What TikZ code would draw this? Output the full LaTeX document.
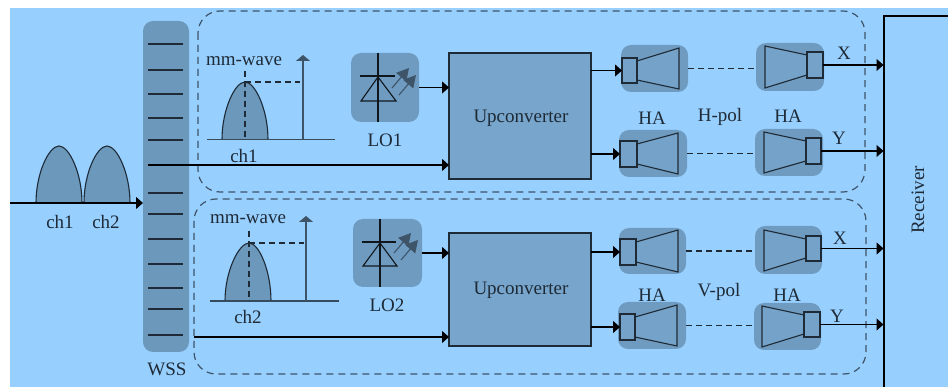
\documentclass[tikz,border=0pt]{standalone}
\usepackage{fontspec}
\setmainfont{Liberation Serif}
\usetikzlibrary{arrows.meta}
\definecolor{skybg}{HTML}{97CFFF}
\definecolor{wssfill}{HTML}{6C98BC}
\definecolor{upfill}{HTML}{77A5CB}
\definecolor{hornbgc}{HTML}{6F9BC0}
\definecolor{hornfill}{HTML}{74A2C8}
\definecolor{inkdark}{HTML}{1E2A36}
\definecolor{greyline}{HTML}{3E5468}
\tikzset{
  x=1pt,y=-1pt,
  box/.style={inner sep=0pt,outer sep=0pt,rectangle},
  wssbar/.style={box,fill=wssfill,rounded corners=10pt},
  upbox/.style={box,fill=upfill,draw=inkdark,line width=1.1pt},
  lobox/.style={box,fill=hornbgc,rounded corners=10pt},
  hornbg/.style={box,fill=hornbgc,rounded corners=10pt},
  feedbox/.style={box,fill=hornfill,draw=inkdark,line width=1.1pt},
  hornbody/.style={fill=hornfill,draw=inkdark,line width=1.1pt,line join=miter},
  region/.style={draw=greyline,line width=1.2pt,dash pattern=on 7pt off 5pt,rounded corners=22pt},
  tick/.style={draw=inkdark,line width=1.1pt},
  link/.style={draw=black,line width=1.05pt,-{Triangle[length=7pt,width=12pt]}},
  hop/.style={draw=inkdark,line width=1.2pt,dash pattern=on 6pt off 4pt},
  guide/.style={draw=inkdark,line width=1.1pt,dash pattern=on 6pt off 4pt},
  spike/.style={draw=greyline,line width=1.2pt,-{Triangle[length=6pt,width=14pt]}},
  axisline/.style={draw=inkdark!80!skybg,line width=1.2pt},
  bump/.style={fill=wssfill,draw=inkdark,line width=1.1pt},
  ledarrow/.style={draw=greyline,line width=1.1pt,-{Triangle[length=12pt,width=13pt]}},
  diode/.style={draw=black!85!wssfill,line width=1.1pt},
  lbl/.style={inner sep=0pt,text=inkdark,font=\fontsize{19}{21}\selectfont},
}
% [style]{name}{x1}{y1}{x2}{y2}
\newcommand{\rectnode}[6][]{%
  \node[#1,minimum width={#5-#3},minimum height={#6-#4}] (#2) at ({(#3+#5)/2},{(#4+#6)/2}) {};}
% horn with throat on the left: name, feed x1 y1 x2 y2, mouth x, mouth y1 y2
\newcommand{\hornL}[8]{%
  \draw[hornbody] (#4,{#3+3}) -- (#6,#7) -- (#6,#8) -- (#4,{#5-3});
  \rectnode[feedbox]{#1}{#2}{#3}{#4}{#5}}
% horn with throat on the right: name, feed x1 y1 x2 y2, mouth x, mouth y1 y2
\newcommand{\hornR}[8]{%
  \draw[hornbody,fill=hornfill] (#2,{#3+3}) -- (#6,#7) -- (#6,#8) -- (#2,{#5-3});
  \rectnode[feedbox]{#1}{#2}{#3}{#4}{#5}}
\newcommand{\bumpat}[4]{%
  \draw[bump] (#1,#4) .. controls (#1,{#4-30}) and ({#2-10},\toplevel) .. (#2,\toplevel)
     .. controls ({#2+10},\toplevel) and (#3,{#4-30}) .. (#3,#4);}
\begin{document}
\begin{tikzpicture}
\useasboundingbox (0,0) rectangle (948,387);
\fill[skybg] (10,8) rectangle (948,387);

% dashed regions
\draw[region] (198,11) rectangle (865,192);
\draw[region] (194,199) rectangle (866,374);

% WSS
\rectnode[wssbar]{wss}{143}{21}{189}{352}
\foreach \yy in {44,70,94,118,140,193,214,239,264,288,309,335}
  \draw[tick] (148,\yy) -- (183,\yy);
\node[lbl] (wsslabel) at (167,369) {WSS};

% input spectrum
\def\toplevel{146}
\bumpat{36}{59}{82}{203}
\bumpat{84}{107}{130}{203}
\coordinate (inp) at (10,203);
\draw[link] (inp) -- (wss.west |- inp);
\node[lbl] (inch1) at (60,222) {ch1};
\node[lbl] (inch2) at (106,222) {ch2};

% Upper spectrum
\def\toplevel{82}
\bumpat{222}{245}{268}{139.5}
\draw[axisline] (207,139.5) -- (335,139.5);
\draw[guide] (245,71) -- (245,139.5);
\draw[guide] (245,82) -- (300,82);
\coordinate (s1b) at (303,139.5);
\coordinate (s1t) at (303,55);
\draw[spike] (s1b) -- (s1t);
\node[lbl] (mm1) at (244,61) {mm-wave};
\node[lbl] (ch1s) at (244,156) {ch1};

% Lower spectrum
\def\toplevel{243}
\bumpat{225}{249}{271}{301}
\draw[axisline] (210,301) -- (339,301);
\draw[guide] (249,231) -- (249,301);
\draw[guide] (249,243) -- (304,243);
\coordinate (s2b) at (306,301);
\coordinate (s2t) at (306,216);
\draw[spike] (s2b) -- (s2t);
\node[lbl] (mm2) at (248,219) {mm-wave};
\node[lbl] (ch2s) at (248,317) {ch2};

% LO1
\rectnode[lobox]{lo1}{351}{53}{419}{122}
\draw[diode] (378,53) -- (378,122);
\draw[diode] (360,76) -- (395,76);
\draw[diode] (378,77) -- (361,101) -- (396,101) -- cycle;
\draw[ledarrow] (392,88) -- (409,68);
\draw[ledarrow] (399,95) -- (416,75);
\node[lbl] (lo1t) at (385,140) {LO1};

% LO2
\rectnode[lobox]{lo2}{353}{219}{422}{287}
\draw[diode] (380,219) -- (380,287);
\draw[diode] (362,242) -- (396,242);
\draw[diode] (380,243) -- (363,266) -- (397,266) -- cycle;
\draw[ledarrow] (394,253) -- (411,233);
\draw[ledarrow] (401,260) -- (418,240);
\node[lbl] (lo2t) at (387,305) {LO2};

% Upconverters
\rectnode[upbox]{up1}{449}{53}{591}{179}
\rectnode[upbox]{up2}{449}{233}{591}{346}
\node[lbl] (up1t) at (521,118.5) {Upconverter};
\node[lbl] (up2t) at (521,290) {Upconverter};

\draw[link] (lo1.east) -- (up1.west |- lo1.east);
\draw[link] (lo2.east) -- (up2.west |- lo2.east);
\coordinate (tap1) at (148,165);
\coordinate (tap2) at (194,337);
\draw[link] (tap1) -- (up1.west |- tap1);
\draw[link] (tap2) -- (up2.west |- tap2);

% Horn backgrounds
\rectnode[hornbg]{a1}{621}{45}{688}{92}
\rectnode[hornbg]{b1}{756}{43}{824}{91}
\rectnode[hornbg]{a2}{619}{130}{687}{177}
\rectnode[hornbg]{b2}{755}{129}{823}{176}
\rectnode[hornbg]{a3}{619}{228}{686}{274}
\rectnode[hornbg]{b3}{755}{226}{822}{274}
\rectnode[hornbg]{a4}{618}{302}{686}{349}
\rectnode[hornbg]{b4}{754}{303}{821}{350}

% Horns
\hornL{fa1}{622}{58}{637}{83}{679}{48}{89}
\hornR{fb1}{807}{52}{823}{78}{765}{46}{88}
\hornL{fa2}{620}{141}{637}{167}{678}{133}{174}
\hornR{fb2}{806}{138}{821}{164}{764}{132}{173}
\hornL{fa3}{620}{239}{636}{265}{678}{230}{272}
\hornR{fb3}{806}{236}{821}{261}{764}{230}{271}
\hornL{fa4}{620}{314}{635}{340}{677}{305}{346}
\hornR{fb4}{804}{312}{820}{337}{762}{306}{347}

% Upconverter to horn
\draw[link] (up1.east |- fa1.west) -- (fa1.west);
\draw[link] (up1.east |- fa2.west) -- (fa2.west);
\draw[link] (up2.east |- fa3.west) -- (fa3.west);
\draw[link] (up2.east |- fa4.west) -- (fa4.west);

% Wireless hops
\draw[hop] (a1.east) -- (b1.west |- a1.east);
\draw[hop] (a2.east) -- (b2.west |- a2.east);
\draw[hop] (a3.east) -- (b3.west |- a3.east);
\draw[hop] (a4.east) -- (b4.west |- a4.east);

% Receiver
\draw[draw=black,line width=1.05pt] (948,16) -| (884,387);
\node[lbl,rotate=90] (rx) at (918,200) {Receiver};
\coordinate (rxw) at (883.5,200);
\draw[link] (fb1.east) -- (rxw |- fb1.east);
\draw[link] (fb2.east) -- (rxw |- fb2.east);
\draw[link] (fb3.east) -- (rxw |- fb3.east);
\draw[link] (fb4.east) -- (rxw |- fb4.east);

% Labels
\node[lbl] (ha1) at (652,118.5) {HA};
\node[lbl] (hpol) at (720,117) {H-pol};
\node[lbl] (ha2) at (788,116.5) {HA};
\node[lbl] (x1) at (844,53) {X};
\node[lbl] (y1) at (839,138) {Y};
\node[lbl] (ha3) at (652,295) {HA};
\node[lbl] (vpol) at (719,292) {V-pol};
\node[lbl] (ha4) at (787,295) {HA};
\node[lbl] (x2) at (840,238) {X};
\node[lbl] (y2) at (837,316) {Y};
\end{tikzpicture}
\end{document}
